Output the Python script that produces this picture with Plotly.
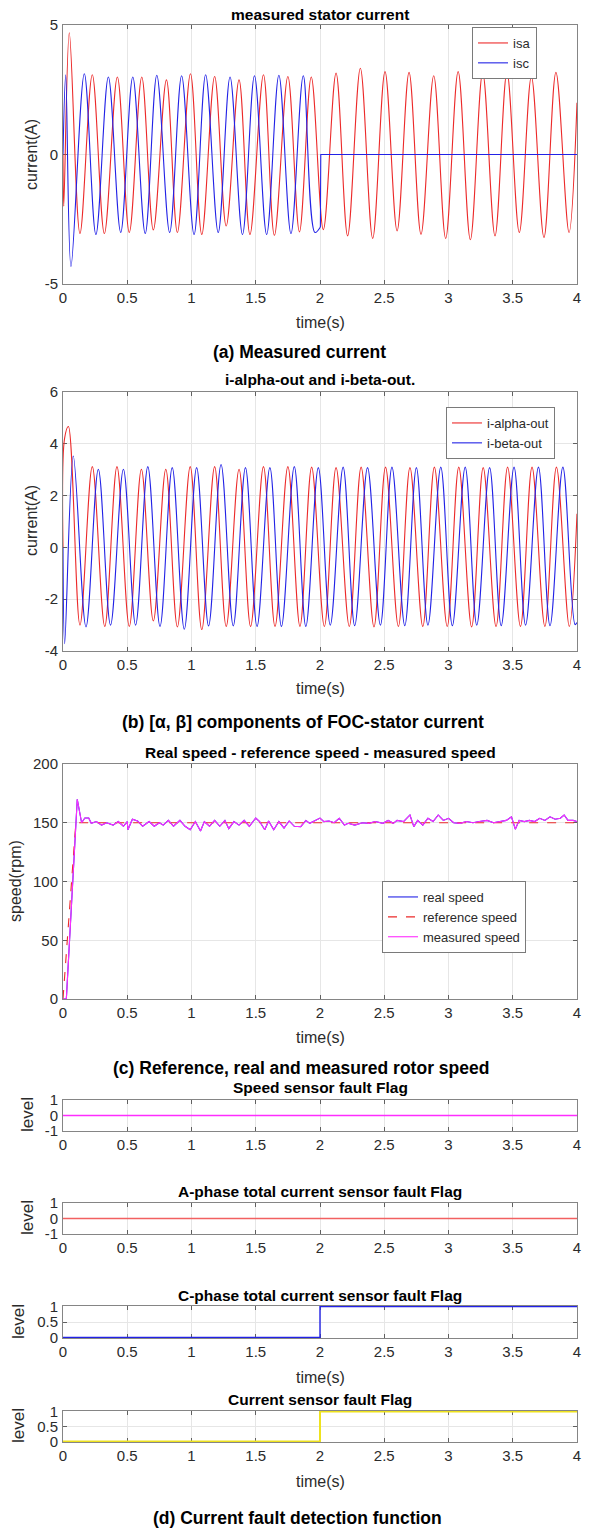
import plotly.graph_objects as go

W, H = 591, 1529

# ---------------- (a) measured stator current ----------------
isa_start_t = [0.0, 0.006]
isa_start_v = [0.0, -2.0]
isa_peak_t = [0.049, 0.228, 0.423, 0.613, 0.805, 0.992, 1.18, 1.37, 1.56, 1.75, 1.932,
              2.125, 2.314, 2.506, 2.693, 2.885, 3.075, 3.266, 3.455, 3.645, 3.836]
isa_peak_v = [4.7, 3.08, 2.99, 2.99, 2.88, 3.12, 3.01, 2.88, 3.08, 3.01, 2.99,
              3.14, 3.33, 3.2, 3.17, 3.04, 3.2, 3.17, 3.18, 3.01, 3.17]
isa_trough_t = [0.132, 0.322, 0.516, 0.703, 0.89, 1.08, 1.27, 1.455, 1.645, 1.84, 2.026,
                2.215, 2.41, 2.60, 2.786, 2.978, 3.17, 3.362, 3.551, 3.743, 3.938]
isa_trough_v = [-3.05, -3.05, -3.01, -2.91, -3.01, -3.09, -2.76, -3.09, -3.12, -2.99, -2.9,
                -3.14, -3.24, -2.95, -3.08, -3.24, -3.29, -3.14, -3.01, -3.2, -3.01]
isa_end_t = [4.0]
isa_end_v = [2.0]

isc_start_t = [0.0]
isc_start_v = [0.0]
isc_peak_t = [0.021, 0.166, 0.353, 0.543, 0.73, 0.923, 1.11, 1.30, 1.49, 1.68, 1.87]
isc_peak_v = [3.08, 3.12, 2.99, 2.99, 3.06, 3.04, 3.08, 2.99, 3.04, 3.06, 3.04]
isc_trough_t = [0.062, 0.256, 0.449, 0.64, 0.83, 1.02, 1.208, 1.397, 1.585, 1.774, 1.961, 2.003]
isc_trough_v = [-4.33, -3.09, -3.01, -3.05, -3.01, -3.09, -3.01, -3.09, -3.09, -3.05, -3.01, -2.8]
isc_fault_t = [2.003, 2.006, 4.0]
isc_fault_v = [-2.8, 0.0, 0.0]

# ---------------- (b) alpha / beta currents ----------------
alpha_start_t = [0.0, 0.012]
alpha_start_v = [0.0, 4.2]
alpha_peak_t = [0.042, 0.228, 0.42, 0.61, 0.80, 0.99, 1.18, 1.37, 1.56, 1.75, 1.935,
                2.125, 2.32, 2.51, 2.70, 2.89, 3.08, 3.27, 3.46, 3.65, 3.84]
alpha_peak_v = [4.67, 3.12, 3.12, 3.02, 3.02, 3.12, 3.12, 3.02, 3.12, 3.12, 3.1,
                3.08, 3.1, 3.1, 3.08, 3.1, 3.1, 3.08, 3.1, 3.1, 3.1]
alpha_trough_t = [0.132, 0.325, 0.516, 0.703, 0.89, 1.08, 1.27, 1.46, 1.65, 1.844, 2.034,
                  2.228, 2.42, 2.61, 2.80, 2.99, 3.18, 3.37, 3.56, 3.75, 3.94]
alpha_trough_v = [-3.0, -3.05, -3.05, -2.84, -3.07, -3.17, -3.05, -3.05, -3.05, -3.05, -3.05,
                  -3.05, -3.07, -3.05, -3.05, -3.05, -3.07, -3.05, -3.05, -3.05, -3.05]
alpha_end_t = [4.0]
alpha_end_v = [1.3]

beta_start_t = [0.0]
beta_start_v = [0.0]
beta_peak_t = [0.08, 0.275, 0.47, 0.66, 0.85, 1.04, 1.23, 1.42, 1.61, 1.80, 1.987,
               2.18, 2.37, 2.56, 2.75, 2.94, 3.13, 3.32, 3.51, 3.70, 3.89]
beta_peak_v = [3.53, 3.02, 3.02, 3.12, 3.08, 3.08, 3.2, 3.08, 3.08, 3.12, 3.08,
               3.1, 3.08, 3.1, 3.08, 3.1, 3.1, 3.08, 3.1, 3.1, 3.1]
beta_trough_t = [0.013, 0.179, 0.37, 0.565, 0.755, 0.944, 1.133, 1.325, 1.51, 1.70, 1.89,
                 2.08, 2.27, 2.47, 2.66, 2.84, 3.03, 3.22, 3.41, 3.60, 3.79, 3.985]
beta_trough_v = [-3.72, -3.07, -3.0, -3.0, -3.05, -3.16, -3.03, -3.03, -3.05, -3.05, -3.05,
                 -3.0, -3.02, -3.0, -3.02, -3.0, -3.02, -3.0, -3.02, -3.0, -3.02, -2.98]
beta_end_t = [4.0]
beta_end_v = [-2.9]

# ---------------- (c) speeds ----------------
ref_speed_t = [0.0, 0.1, 4.0]
ref_speed_v = [0.0, 150.0, 150.0]
speed_t = [0, 0.026, 0.111, 0.145, 0.17, 0.2, 0.22, 0.26, 0.3, 0.34,
           0.39, 0.43, 0.47, 0.5, 0.505, 0.54, 0.58, 0.62, 0.67, 0.71,
           0.75, 0.78, 0.82, 0.86, 0.91, 0.95, 0.99, 1.03, 1.07, 1.1,
           1.14, 1.18, 1.22, 1.26, 1.29, 1.33, 1.37, 1.41, 1.45, 1.5,
           1.53, 1.57, 1.6, 1.64, 1.68, 1.72, 1.76, 1.8, 1.85, 1.89,
           1.92, 1.96, 2.0, 2.03, 2.07, 2.11, 2.15, 2.19, 2.22, 2.27,
           2.33, 2.38, 2.43, 2.49, 2.53, 2.57, 2.6, 2.65, 2.7, 2.73,
           2.76, 2.8, 2.84, 2.88, 2.92, 2.96, 3.0, 3.04, 3.09, 3.14,
           3.19, 3.24, 3.3, 3.35, 3.4, 3.45, 3.49, 3.52, 3.55, 3.59,
           3.63, 3.67, 3.71, 3.75, 3.79, 3.83, 3.87, 3.9, 3.93, 3.97,
           4.0]
speed_v = [0, 0, 170, 150, 154, 154, 149.5, 151, 148, 150,
           148, 151, 147, 151, 144, 153, 151.5, 147, 151, 147,
           150, 148, 152, 147, 152, 147, 144, 151, 143, 151,
           147, 152, 147, 152, 145, 151, 148, 152, 147, 154,
           151, 144, 151.5, 144, 151, 145.5, 151.5, 147, 146.7, 152,
           149.5, 152, 154, 151, 151.5, 150, 153.8, 148, 149.5, 148,
           150, 149.5, 151, 149.5, 152, 149.5, 152, 151, 156.6, 146.7,
           152, 148, 153.8, 151, 156.6, 152, 153.8, 150, 149.5, 151,
           150, 151, 152, 150, 151, 152, 155, 144.5, 152, 151,
           152, 151, 153.8, 152, 155, 153, 153.8, 156.6, 152, 152,
           151]

# ---------------- (d) fault flags ----------------
flag_t = [0.0, 2.0, 4.0]
speed_flag = [0, 0, 0]
a_flag = [0, 0, 0]
c_flag = [0, 1, 1]
cur_flag = [0, 1, 1]

x_ticks = [0, 0.5, 1, 1.5, 2, 2.5, 3, 3.5, 4]
x_ticktext = ["0", "0.5", "1", "1.5", "2", "2.5", "3", "3.5", "4"]

RED = "#ec2a2a"
BLUE = "#2222e6"
MAG = "#ff2cff"
FONT = "Liberation Sans, Arial, sans-serif"


def merge(*pairs):
    pts = []
    for ts, vs in pairs:
        pts.extend(zip(ts, vs))
    pts.sort(key=lambda p: p[0])
    return [p[0] for p in pts], [p[1] for p in pts]


def dom(top, bottom):
    return [1 - bottom / H, 1 - top / H]


fig = go.Figure()

isa_x, isa_y = merge((isa_start_t, isa_start_v), (isa_peak_t, isa_peak_v),
                     (isa_trough_t, isa_trough_v), (isa_end_t, isa_end_v))
isc_x, isc_y = merge((isc_start_t, isc_start_v), (isc_peak_t, isc_peak_v),
                     (isc_trough_t, isc_trough_v))
al_x, al_y = merge((alpha_start_t, alpha_start_v), (alpha_peak_t, alpha_peak_v),
                   (alpha_trough_t, alpha_trough_v), (alpha_end_t, alpha_end_v))
be_x, be_y = merge((beta_start_t, beta_start_v), (beta_peak_t, beta_peak_v),
                   (beta_trough_t, beta_trough_v), (beta_end_t, beta_end_v))

LW = 1.1
fig.add_trace(go.Scatter(x=isa_x, y=isa_y, mode="lines", name="isa",
                         line=dict(color=RED, width=LW, shape="spline"),
                         xaxis="x", yaxis="y", legend="legend"))
fig.add_trace(go.Scatter(x=isc_x, y=isc_y, mode="lines", name="isc",
                         line=dict(color=BLUE, width=LW, shape="spline"),
                         xaxis="x", yaxis="y", legend="legend"))
fig.add_trace(go.Scatter(x=isc_fault_t, y=isc_fault_v, mode="lines", showlegend=False,
                         line=dict(color=BLUE, width=LW), xaxis="x", yaxis="y"))

fig.add_trace(go.Scatter(x=al_x, y=al_y, mode="lines", name="i-alpha-out",
                         line=dict(color=RED, width=LW, shape="spline"),
                         xaxis="x2", yaxis="y2", legend="legend2"))
fig.add_trace(go.Scatter(x=be_x, y=be_y, mode="lines", name="i-beta-out",
                         line=dict(color=BLUE, width=LW, shape="spline"),
                         xaxis="x2", yaxis="y2", legend="legend2"))

fig.add_trace(go.Scatter(x=speed_t, y=speed_v, mode="lines", name="real speed",
                         line=dict(color=BLUE, width=LW),
                         xaxis="x3", yaxis="y3", legend="legend3"))
fig.add_trace(go.Scatter(x=ref_speed_t, y=ref_speed_v, mode="lines", name="reference speed",
                         line=dict(color=RED, width=LW, dash="dash"),
                         xaxis="x3", yaxis="y3", legend="legend3"))
fig.add_trace(go.Scatter(x=speed_t, y=speed_v, mode="lines", name="measured speed",
                         line=dict(color=MAG, width=LW),
                         xaxis="x3", yaxis="y3", legend="legend3"))

for i, (vals, col, lw) in enumerate([(speed_flag, MAG, 1.4), (a_flag, "#f26060", 1.6),
                                     (c_flag, BLUE, 1.4), (cur_flag, "#eee21e", 2.0)]):
    n = i + 4
    fig.add_trace(go.Scatter(x=flag_t, y=vals, mode="lines", showlegend=False,
                             line=dict(color=col, width=lw, shape="hv"),
                             xaxis="x%d" % n, yaxis="y%d" % n))

panels = [
    # top, bottom, yrange, ytickvals, yticktext
    (25, 284, [-5, 5], [-5, 0, 5], ["-5", "0", "5"]),
    (392, 651, [-4, 6], [-4, -2, 0, 2, 4, 6], ["-4", "-2", "0", "2", "4", "6"]),
    (764, 999, [0, 200], [0, 50, 100, 150, 200], ["0", "50", "100", "150", "200"]),
    (1100, 1131, [-1, 1], [-1, 0, 1], ["-1", "0", "1"]),
    (1203, 1234, [-1, 1], [-1, 0, 1], ["-1", "0", "1"]),
    (1306, 1338, [-0.02, 1.02], [0, 0.5, 1], ["0", "0.5", "1"]),
    (1411, 1442, [-0.02, 1.02], [0, 0.5, 1], ["0", "0.5", "1"]),
]

AX = dict(showline=True, linecolor="#858585", linewidth=1, mirror="ticks",
          ticks="inside", ticklen=4, tickcolor="#606060", tickwidth=1,
          showgrid=True, gridcolor="#e6e6e6", gridwidth=1, zeroline=False,
          layer="below traces", automargin=False,
          tickfont=dict(family=FONT, size=15, color="#2b2b2b"))

layout = {}
for i, (top, bot, yr, yt, ytt) in enumerate(panels):
    n = i + 1
    sx = "" if n == 1 else str(n)
    layout["xaxis" + sx] = dict(AX, domain=[63 / W, 577 / W], range=[0, 4],
                               tickmode="array", tickvals=x_ticks, ticktext=x_ticktext,
                               anchor="y" + sx, fixedrange=True)
    layout["yaxis" + sx] = dict(AX, domain=dom(top, bot), range=yr,
                               tickmode="array", tickvals=yt, ticktext=ytt,
                               anchor="x" + sx, fixedrange=True, ticklabelstandoff=1)

annotations = []


def text(xp, yp, s, size, bold=False, angle=0, color="#000000"):
    annotations.append(dict(
        x=xp / W, y=1 - yp / H, xref="paper", yref="paper",
        text=("<b>%s</b>" % s) if bold else s, showarrow=False,
        xanchor="center", yanchor="middle", textangle=angle,
        font=dict(family=FONT, size=size, color=color)))


TS = 15.5
# titles
text(320, 14, "measured stator current", TS, bold=True)
text(320, 380, "i-alpha-out and i-beta-out.", TS, bold=True)
text(320, 752, "Real speed - reference speed - measured speed", TS, bold=True)
text(320, 1087, "Speed sensor fault Flag", TS, bold=True)
text(320, 1191, "A-phase total current sensor fault Flag", TS, bold=True)
text(320, 1295, "C-phase total current sensor fault Flag", TS, bold=True)
text(320, 1399, "Current sensor fault Flag", TS, bold=True)

# x labels
LS = 16
LC = "#2b2b2b"
text(320, 323, "time(s)", LS, color=LC)
text(320, 688, "time(s)", LS, color=LC)
text(320, 1037, "time(s)", LS, color=LC)
text(320, 1377, "time(s)", LS, color=LC)
text(320, 1481, "time(s)", LS, color=LC)

# y labels
text(31, 155, "current(A)", LS, angle=-90, color=LC)
text(31, 521, "current(A)", LS, angle=-90, color=LC)
text(16, 881, "speed(rpm)", LS, angle=-90, color=LC)
text(27, 1115, "level", 17, angle=-90, color=LC)
text(27, 1218, "level", 17, angle=-90, color=LC)
text(18, 1322, "level", 17, angle=-90, color=LC)
text(18, 1426, "level", 17, angle=-90, color=LC)

# captions
CS = 17.5
text(299, 352, "(a) Measured current", CS, bold=True)
text(303, 722, "(b) [\u03b1, \u03b2] components of FOC-stator current", CS, bold=True)
text(301, 1068, "(c) Reference, real and measured rotor speed", CS, bold=True)
text(297, 1518, "(d) Current fault detection function", CS, bold=True)

LEG = dict(bgcolor="#ffffff", bordercolor="#7a7a7a", borderwidth=1,
           xanchor="left", yanchor="top", tracegroupgap=0,
           font=dict(family=FONT, size=13, color="#2b2b2b"),
           itemwidth=30)
layout["legend"] = dict(LEG, x=472 / W, y=1 - 27 / H)
layout["legend2"] = dict(LEG, x=446 / W, y=1 - 407 / H)
layout["legend3"] = dict(LEG, x=382 / W, y=1 - 881 / H)

fig.update_layout(**layout)
fig.update_layout(
    width=W, height=H, autosize=False,
    margin=dict(l=0, r=0, t=0, b=0, pad=0, autoexpand=False),
    paper_bgcolor="#ffffff", plot_bgcolor="#ffffff",
    annotations=annotations,
    font=dict(family=FONT),
)

fig.write_html("out.html", config={"displayModeBar": False},
               post_script="document.body.style.margin='0px';document.body.style.padding='0px';")
